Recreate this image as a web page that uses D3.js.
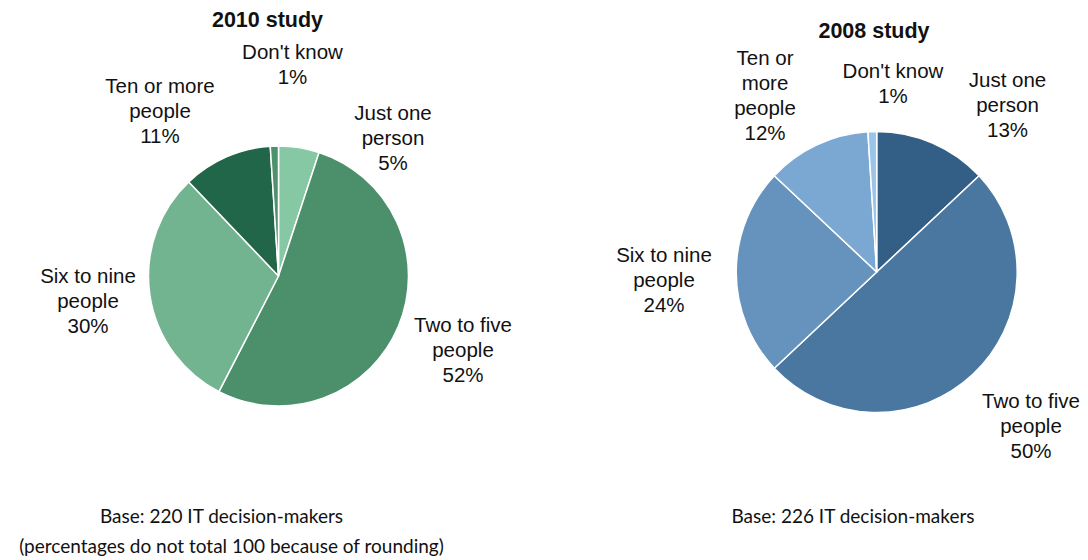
<!DOCTYPE html>
<html>
<head>
<meta charset="utf-8">
<script src="https://cdn.jsdelivr.net/npm/d3@7"></script>
<style>
  html, body { margin: 0; padding: 0; background: #ffffff; }
  svg { display: block; }
  .lbl { font-family: "Liberation Sans", Arial, sans-serif; font-size: 20.5px; fill: #111; }
  .ttl { font-family: "Liberation Sans", Arial, sans-serif; font-size: 21.5px; font-weight: bold; fill: #111; }
  .note { font-family: Lato, "Open Sans", sans-serif; font-size: 19px; fill: #111; }
</style>
</head>
<body>
<svg id="chart" width="1088" height="560"></svg>
<script>
// Team-size answers, in slice order (clockwise from 12 o'clock)
const categories = ["Just one person", "Two to five people", "Six to nine people", "Ten or more people", "Don't know"];
const values2010 = [5, 52, 30, 11, 1];
const values2008 = [13, 50, 24, 12, 1];

// Label wording per slice (line breaks as set in each panel)
const labelLines2010 = [["Just one", "person"], ["Two to five", "people"], ["Six to nine", "people"], ["Ten or more", "people"], ["Don't know"]];
const labelLines2008 = [["Just one", "person"], ["Two to five", "people"], ["Six to nine", "people"], ["Ten or", "more", "people"], ["Don't know"]];

const titles = ["2010 study", "2008 study"];
const baseNotes = ["Base: 220 IT decision-makers", "Base: 226 IT decision-makers"];
const roundingNote = "(percentages do not total 100 because of rounding)";

// Panel styling and layout
const colors2010 = ["#86c8a3", "#4b8f6b", "#72b48f", "#226649", "#4e916d"];
const colors2008 = ["#335f87", "#4a77a0", "#6593bd", "#7aa8d2", "#9ac4ea"];

const panels = [
  {
    values: values2010, lines: labelLines2010, colors: colors2010, title: titles[0], note: baseNotes[0],
    cx: 278.5, cy: 276, r: 130,
    titlePos: [267.5, 27], notePos: [221.5, 523],
    labelPos: [[393, 120], [463, 332], [88, 283], [160, 93], [292.5, 59]]
  },
  {
    values: values2008, lines: labelLines2008, colors: colors2008, title: titles[1], note: baseNotes[1],
    cx: 876.7, cy: 272, r: 140.5,
    titlePos: [874, 37.5], notePos: [853, 523],
    labelPos: [[1007.5, 87], [1031, 408], [664, 262], [765, 65], [893, 78]]
  }
];

const lineStep = 25;
const svg = d3.select("#chart");

const pie = d3.pie().sort(null).value(d => d).startAngle(0).endAngle(2 * Math.PI);

panels.forEach(p => {
  const g = svg.append("g").attr("transform", `translate(${p.cx},${p.cy})`);
  const arc = d3.arc().innerRadius(0).outerRadius(p.r);

  g.selectAll("path.slice")
    .data(pie(p.values))
    .join("path")
    .attr("class", "slice")
    .attr("d", arc)
    .attr("fill", (d, i) => p.colors[i])
    .attr("stroke", "#ffffff")
    .attr("stroke-width", 1.5)
    .attr("stroke-linejoin", "round");

  // Title
  svg.append("text")
    .attr("class", "ttl")
    .attr("x", p.titlePos[0])
    .attr("y", p.titlePos[1])
    .attr("text-anchor", "middle")
    .text(p.title);

  // Slice labels: name lines followed by the percentage
  p.values.forEach((v, i) => {
    const rows = p.lines[i].concat([v + "%"]);
    const t = svg.append("text")
      .attr("class", "lbl")
      .attr("text-anchor", "middle");
    rows.forEach((row, k) => {
      t.append("tspan")
        .attr("x", p.labelPos[i][0])
        .attr("y", p.labelPos[i][1] + k * lineStep)
        .text(row);
    });
  });

  // Base note
  svg.append("text")
    .attr("class", "note")
    .attr("x", p.notePos[0])
    .attr("y", p.notePos[1])
    .attr("text-anchor", "middle")
    .text(p.note);
});

svg.append("text")
  .attr("class", "note")
  .attr("x", 231.5)
  .attr("y", 553)
  .attr("text-anchor", "middle")
  .text(roundingNote);
</script>
</body>
</html>
